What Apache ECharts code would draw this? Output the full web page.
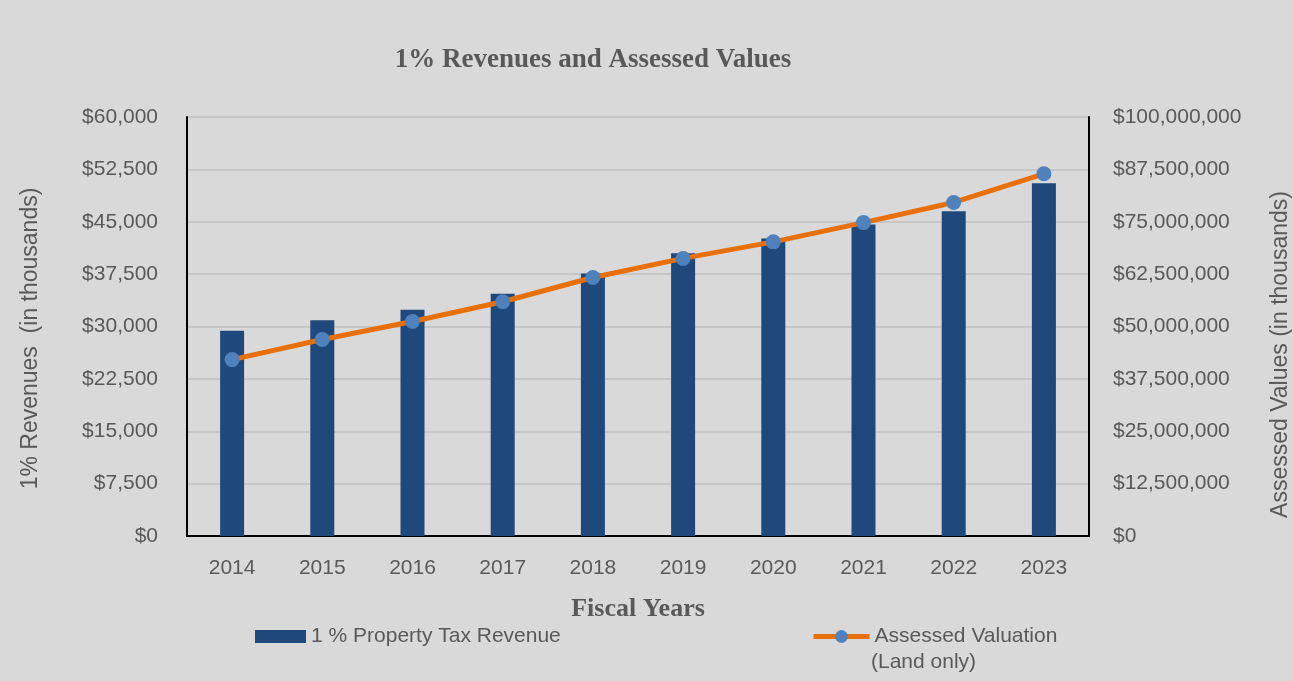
<!DOCTYPE html>
<html>
<head>
<meta charset="utf-8">
<script src="https://cdn.jsdelivr.net/npm/echarts@6/dist/echarts.min.js"></script>
<style>
  html, body { margin: 0; padding: 0; background: #d9d9d9; }
  #main { width: 1293px; height: 681px; }
</style>
</head>
<body>
<div id="main"></div>
<script>
const years = ['2014', '2015', '2016', '2017', '2018', '2019', '2020', '2021', '2022', '2023']
// 1% property tax revenue, in thousands
const revenue = [29400, 30900, 32400, 34700, 37600, 40500, 42600, 44600, 46500, 50500]
// assessed valuation (land only), in thousands
const assessed = [42100000, 46900000, 51200000, 55900000, 61700000, 66250000, 70200000, 74800000, 79600000, 86450000]

const grey = '#595959'
const labelFont = 'Liberation Sans'
const money = v => '$' + v.toLocaleString('en-US')

const chart = echarts.init(document.getElementById('main'))

chart.setOption({
    backgroundColor: '#d9d9d9',
    animation: false,
    title: {
        text: '1% Revenues and Assessed Values',
        left: 588, top: 42, textAlign: 'center',
        textStyle: { fontFamily: 'Liberation Serif', fontWeight: 'bold', fontSize: 27, color: grey }
    },
    grid: { left: 187, right: 204, top: 117, bottom: 145, outerBoundsMode: 'none' },
    legend: [{
        data: [{ name: '1 % Property Tax Revenue', icon: 'rect' }],
        left: 250, top: 621,
        itemWidth: 51, itemHeight: 13,
        textStyle: { fontFamily: labelFont, fontSize: 21, color: grey }
    }, {
        data: ['Assessed Valuation'],
        left: 806, top: 621,
        itemWidth: 56, itemHeight: 16,
        lineStyle: { width: 5, color: '#e8700a' },
        textStyle: { fontFamily: labelFont, fontSize: 21, color: grey }
    }],
    graphic: [{
        type: 'text', left: 871, top: 652,
        style: { text: '(Land only)', font: '21px Liberation Sans', fill: grey }
    }],
    xAxis: {
        type: 'category',
        data: years,
        name: 'Fiscal Years',
        nameLocation: 'middle',
        nameGap: 60,
        nameTextStyle: { fontFamily: 'Liberation Serif', fontWeight: 'bold', fontSize: 26, color: grey },
        axisLine: { lineStyle: { color: '#000', width: 2 } },
        axisTick: { show: false },
        axisLabel: { margin: 22, fontFamily: labelFont, fontSize: 21, color: grey }
    },
    yAxis: [{
        type: 'value',
        min: 0, max: 60000, interval: 7500,
        name: '1% Revenues  (in thousands)',
        nameLocation: 'middle',
        nameGap: 145,
        nameTextStyle: { fontFamily: labelFont, fontSize: 23, color: grey, padding: [0, 24, 0, 0] },
        axisLine: { show: true, lineStyle: { color: '#000', width: 2 } },
        axisLabel: { margin: 29, fontFamily: labelFont, fontSize: 21, color: grey, formatter: money },
        splitLine: { lineStyle: { color: '#bfbfbf', width: 1.5 } }
    }, {
        type: 'value',
        min: 0, max: 100000000, interval: 12500000,
        name: 'Assessed Values (in thousands)',
        nameLocation: 'middle',
        nameGap: 180,
        nameRotate: 90,
        nameTextStyle: { fontFamily: labelFont, fontSize: 23, color: grey, padding: [0, 56, 0, 0] },
        axisLine: { show: true, lineStyle: { color: '#000', width: 2 } },
        axisLabel: { margin: 24, fontFamily: labelFont, fontSize: 21, color: grey, formatter: money },
        splitLine: { show: false }
    }],
    series: [{
        name: '1 % Property Tax Revenue',
        type: 'bar',
        data: revenue,
        barWidth: 24,
        itemStyle: { color: '#1f497d' }
    }, {
        name: 'Assessed Valuation',
        type: 'line',
        yAxisIndex: 1,
        data: assessed,
        symbol: 'circle',
        symbolSize: 15,
        lineStyle: { color: '#e8700a', width: 5 },
        itemStyle: { color: '#4f81bd' }
    }]
})
</script>
</body>
</html>
